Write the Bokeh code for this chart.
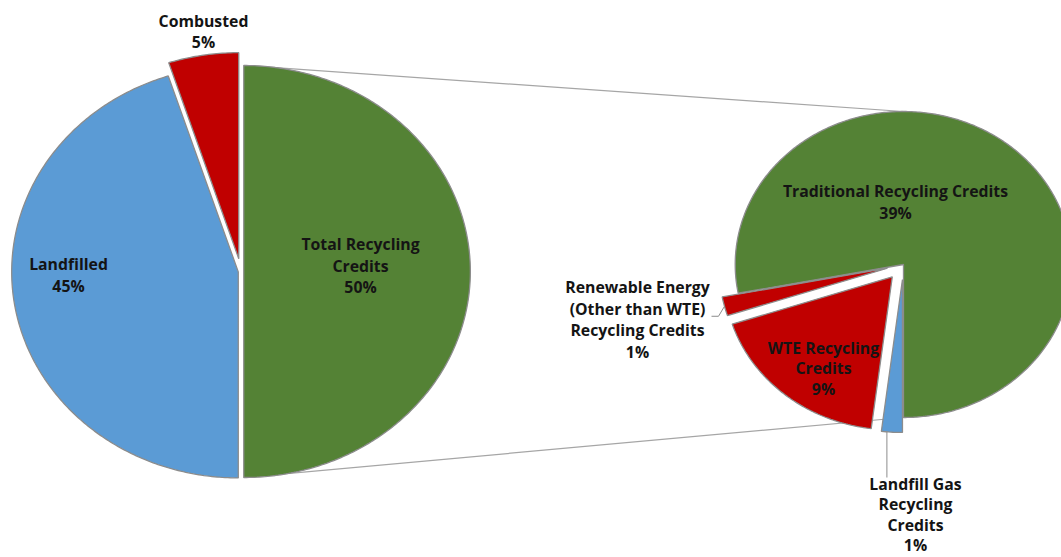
import numpy as np
from bokeh.plotting import figure
from bokeh.models import Range1d
from bokeh.core.properties import value
from bokeh.embed import file_html
from bokeh.resources import INLINE

# ---------------- data ----------------
main_labels = ["Total Recycling\nCredits", "Combusted", "Landfilled"]
main_values = [50, 5, 45]
sub_labels = ["Traditional Recycling Credits",
              "Renewable Energy\n(Other than WTE)\nRecycling Credits",
              "WTE Recycling\nCredits",
              "Landfill Gas\nRecycling\nCredits"]
sub_values = [39, 1, 9, 1]

# ---------------- layout / style ----------------
W, H = 1061, 557
MARGIN = 0


def X(sx):
    return sx - MARGIN


def Y(sy):
    return H + MARGIN - sy


STRETCH = 1.1
GREEN, RED, BLUE = "#548235", "#c00000", "#5b9bd5"
main_colors = [GREEN, RED, BLUE]
sub_colors = [GREEN, RED, RED, BLUE]
main_explode = [2.5, 13, 2.5]
sub_explode = [0, 15, 16, 15]
MAIN_C, MAIN_R = (X(240.5), Y(271)), 206
SUB_C, SUB_R = (X(903), Y(264)), 153
FONT = "Open Sans"
FSIZE = "15.8px"
TXT = "#141414"
LINE = 21.5

# label block centers (screen px) and line spacing
main_anchor = [(360, 265, LINE), (203, 31, LINE), (68, 274.5, LINE)]
sub_anchor = [(895, 201.5, LINE), (637, 319, LINE), (823, 367.5, 20.5), (915, 514, 20.3)]


def pie(center, r, values, explode, start=-90.0):
    total = float(sum(values))
    cx, cy = center
    xs, ys, geo = [], [], []
    a = start
    for v, e in zip(values, explode):
        span = 360.0 * v / total
        a0, a1 = np.radians(a), np.radians(a + span)
        m = (a0 + a1) / 2
        ox = cx + STRETCH * e * np.cos(m)
        oy = cy + e * np.sin(m)
        t = np.linspace(a0, a1, max(8, int(span * 1.5)))
        px = np.concatenate([[ox], ox + STRETCH * r * np.cos(t), [ox]])
        py = np.concatenate([[oy], oy + r * np.sin(t), [oy]])
        xs.append(px.tolist())
        ys.append(py.tolist())
        geo.append((ox, oy, m))
        a += span
    return xs, ys, geo


p = figure(width=W, height=H, output_backend="svg", toolbar_location=None,
           x_range=Range1d(0, W), y_range=Range1d(0, H), min_border=0,
           x_axis_location=None, y_axis_location=None)
p.grid.visible = False
p.outline_line_color = None
p.background_fill_color = "white"
p.border_fill_color = "white"

mxs, mys, mgeo = pie(MAIN_C, MAIN_R, main_values, main_explode)
sxs, sys_, sgeo = pie(SUB_C, SUB_R, sub_values, sub_explode)

# connector lines between the two pies (behind the slices)
gx = mgeo[0][0]
p.line([gx, SUB_C[0]], [MAIN_C[1] + MAIN_R, SUB_C[1] + SUB_R], line_color="#a6a6a6", line_width=1.2)
p.line([gx, SUB_C[0]], [MAIN_C[1] - MAIN_R, SUB_C[1] - SUB_R], line_color="#a6a6a6", line_width=1.2)

p.patches(mxs, mys, fill_color=main_colors, line_color="#8c8c8c", line_width=1.3)
p.patches(sxs, sys_, fill_color=sub_colors, line_color="#8c8c8c", line_width=1.3)

# leader lines
ox, oy, m = sgeo[1]
lx, ly = ox + STRETCH * SUB_R * np.cos(m), oy + SUB_R * np.sin(m)
p.line([lx, lx - 6, lx - 13], [ly, ly - 10, ly - 10], line_color="#8c8c8c", line_width=1)
ox, oy, m = sgeo[3]
lx, ly = ox + STRETCH * SUB_R * np.cos(m), oy + SUB_R * np.sin(m)
p.line([lx - 5, lx - 5], [ly + 1, Y(477)], line_color="#8c8c8c", line_width=1)


def put_labels(labels, values, anchors):
    tx, ty, tt = [], [], []
    for lab, v, (ax, ay, sp) in zip(labels, values, anchors):
        lines = lab.split("\n") + [f"{v}%"]
        n = len(lines)
        for i, s in enumerate(lines):
            tx.append(X(ax))
            ty.append(Y(ay - (n - 1) * sp / 2 + i * sp))
            tt.append(s)
    p.text(tx, ty, text=tt, text_font=value(FONT), text_font_style="bold",
           text_font_size=FSIZE, text_color=TXT, text_align="center",
           text_baseline="middle")


put_labels(main_labels, main_values, main_anchor)
put_labels(sub_labels, sub_values, sub_anchor)

open("out.html", "w").write(file_html(p, INLINE))
